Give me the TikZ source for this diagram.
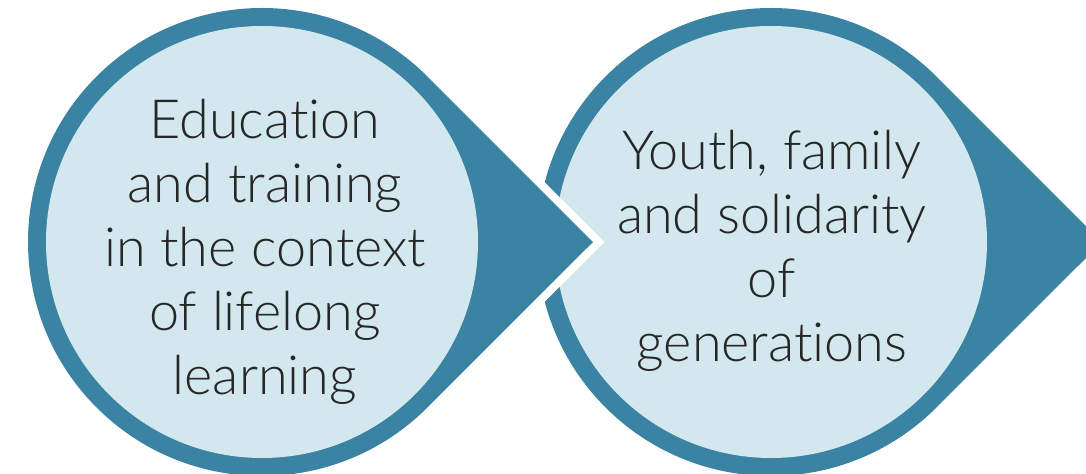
\documentclass[tikz,border=0pt]{standalone}
\usepackage{fontspec}
\newfontfamily\lightfont{Lato Light}[Ligatures={NoCommon,NoRare,NoContextual}]
\definecolor{dropteal}{HTML}{3A83A2}
\definecolor{holeblue}{HTML}{D3E7EF}
\definecolor{textgray}{HTML}{262626}

\begin{document}
\begin{tikzpicture}[x=0.5pt,y=-0.5pt,
    drop/.style={fill=dropteal,preaction={draw=white,line width=8pt}},
    hole/.style={fill=holeblue},
    topic/.style={font=\lightfont\fontsize{27}{32}\selectfont,text=textgray,align=center}]

\useasboundingbox (0,0) rectangle (1086,474);

% right drop first, so the white rim of the left tip cuts into it
\foreach \cx in {771,262} {
  \coordinate (c) at (\cx,242);
  \path[drop] ([shift={(-45:234)}]c) -- ++(165.5,165.5) -- ([shift={(45:234)}]c)
    arc[start angle=45,end angle=315,radius=234] -- cycle;
  \path[hole] (c) circle[radius=216];
}

\node[topic] (edu) at (265,252) {Education\\and training\\in the context\\of lifelong\\learning};
\node[topic] (youth) at (772,251) {Youth, family\\and solidarity\\of\\generations};

\end{tikzpicture}
\end{document}
